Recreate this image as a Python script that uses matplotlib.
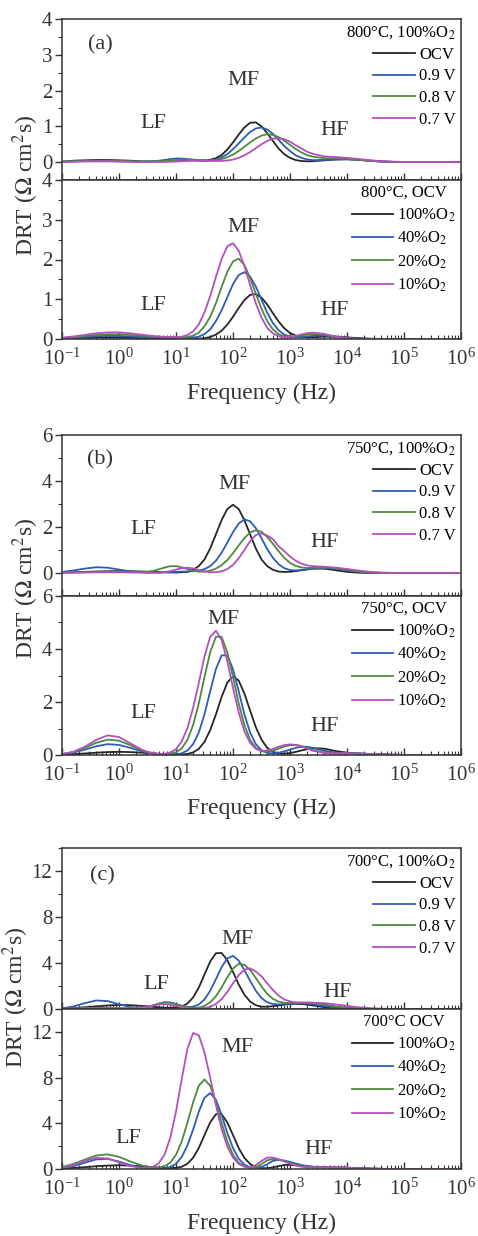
import numpy as np
import matplotlib
matplotlib.use('Agg')
import matplotlib.pyplot as plt
from matplotlib.ticker import MultipleLocator, LogLocator, NullFormatter

plt.rcParams['font.family'] = ['Liberation Serif', 'DejaVu Serif']
plt.rcParams['mathtext.fontset'] = 'stix'

# log10 of frequency (Hz) where the curves were read (finer around the MF peaks)
log_f = [-1.0, -0.8, -0.6, -0.4, -0.2, 0.0, 0.2, 0.4,
         0.5, 0.6, 0.7, 0.8, 0.9, 1.0, 1.1, 1.2, 1.3, 1.4, 1.5, 1.6, 1.7, 1.8, 1.9, 2.0,
         2.1, 2.2, 2.3, 2.4, 2.5, 2.6, 2.7, 2.8, 2.9, 3.0, 3.1, 3.2, 3.3, 3.4,
         3.6, 3.8, 4.0, 4.2, 4.4, 4.6, 4.8, 5.0, 6.0]
freq = [10 ** v for v in log_f]

volt_labels = ['OCV', '0.9 V', '0.8 V', '0.7 V']
o2_labels = ['100%O$_2$', '40%O$_2$', '20%O$_2$', '10%O$_2$']
colors = ['#262626', '#2c5cb8', '#4e8a3e', '#b54fbd']

# (a) 800 C, bias
a_ocv = [0.01, 0.04, 0.05, 0.06, 0.06, 0.05, 0.04, 0.02,
         0.02, 0.02, 0.02, 0.025, 0.033, 0.04, 0.048, 0.05, 0.05, 0.047, 0.048, 0.065, 0.11, 0.20, 0.35, 0.55,
         0.77, 0.97, 1.10, 1.11, 1.00, 0.81, 0.59, 0.38, 0.22, 0.12, 0.057, 0.03, 0.022, 0.026,
         0.05, 0.073, 0.08, 0.062, 0.035, 0.014, 0.005, 0, 0]
a_v09 = [0.01, 0.02, 0.03, 0.03, 0.03, 0.02, 0.015, 0.01,
         0.015, 0.02, 0.04, 0.06, 0.084, 0.10, 0.098, 0.084, 0.063, 0.045, 0.035, 0.04, 0.073, 0.13, 0.225, 0.36,
         0.52, 0.69, 0.84, 0.94, 0.97, 0.91, 0.79, 0.62, 0.45, 0.31, 0.19, 0.12, 0.074, 0.055,
         0.06, 0.074, 0.08, 0.066, 0.042, 0.021, 0.008, 0.003, 0]
a_v08 = [0.015, 0.024, 0.033, 0.039, 0.039, 0.033, 0.024, 0.017,
         0.016, 0.017, 0.023, 0.033, 0.044, 0.056, 0.067, 0.07, 0.069, 0.06, 0.052, 0.05, 0.06, 0.085, 0.135, 0.21,
         0.31, 0.43, 0.55, 0.66, 0.74, 0.78, 0.76, 0.70, 0.60, 0.48, 0.37, 0.27, 0.195, 0.15,
         0.11, 0.106, 0.093, 0.068, 0.039, 0.017, 0.006, 0.002, 0]
a_v07 = [0.008, 0.012, 0.017, 0.02, 0.02, 0.017, 0.012, 0.008,
         0.004, 0.005, 0.004, 0.007, 0.01, 0.016, 0.024, 0.032, 0.038, 0.04, 0.039, 0.035, 0.032, 0.034, 0.045, 0.07,
         0.12, 0.19, 0.28, 0.39, 0.50, 0.59, 0.66, 0.66, 0.64, 0.57, 0.47, 0.38, 0.29, 0.23,
         0.16, 0.14, 0.12, 0.087, 0.053, 0.027, 0.011, 0.004, 0]
# (a) 800 C, OCV, pO2
a_o100 = [0.011, 0.019, 0.029, 0.037, 0.04, 0.037, 0.029, 0.019,
          0.015, 0.011, 0.008, 0.005, 0.003, 0.002, 0.001, 0.0, 0.003, 0.009, 0.022, 0.05, 0.11, 0.21, 0.36, 0.56,
          0.78, 0.98, 1.11, 1.13, 1.04, 0.87, 0.65, 0.44, 0.27, 0.15, 0.086, 0.05, 0.044, 0.046,
          0.058, 0.058, 0.041, 0.022, 0.008, 0.002, 0, 0, 0]
a_o40 = [0.019, 0.034, 0.053, 0.071, 0.08, 0.076, 0.063, 0.05,
         0.046, 0.044, 0.043, 0.041, 0.039, 0.03, 0.03, 0.027, 0.032, 0.06, 0.124, 0.24, 0.45, 0.72, 1.05, 1.38,
         1.61, 1.68, 1.57, 1.32, 0.99, 0.66, 0.40, 0.22, 0.11, 0.06, 0.046, 0.052, 0.064, 0.079,
         0.089, 0.064, 0.029, 0.009, 0.002, 0, 0, 0, 0]
a_o20 = [0.024, 0.045, 0.073, 0.10, 0.118, 0.118, 0.10, 0.08,
         0.07, 0.063, 0.057, 0.052, 0.046, 0.039, 0.041, 0.05, 0.083, 0.16, 0.32, 0.56, 0.90, 1.31, 1.69, 1.95,
         2.02, 1.86, 1.54, 1.14, 0.76, 0.45, 0.24, 0.12, 0.067, 0.054, 0.063, 0.087, 0.112, 0.127,
         0.11, 0.06, 0.019, 0.004, 0, 0, 0, 0, 0]
a_o10 = [0.034, 0.064, 0.103, 0.142, 0.167, 0.167, 0.142, 0.108,
         0.091, 0.076, 0.063, 0.053, 0.043, 0.046, 0.058, 0.10, 0.19, 0.37, 0.67, 1.08, 1.56, 2.01, 2.33, 2.41,
         2.22, 1.84, 1.36, 0.90, 0.54, 0.28, 0.14, 0.07, 0.047, 0.055, 0.079, 0.115, 0.145, 0.16,
         0.128, 0.059, 0.016, 0.002, 0, 0, 0, 0, 0]

# (b) 750 C, bias
b_ocv = [0.02, 0.033, 0.049, 0.064, 0.076, 0.08, 0.076, 0.064,
         0.057, 0.049, 0.04, 0.033, 0.026, 0.02, 0.033, 0.048, 0.14, 0.30, 0.59, 1.07, 1.68, 2.30, 2.78, 2.97,
         2.78, 2.30, 1.68, 1.07, 0.59, 0.30, 0.14, 0.063, 0.045, 0.055, 0.082, 0.121, 0.16, 0.19,
         0.19, 0.121, 0.05, 0.013, 0.002, 0, 0, 0, 0]
b_v09 = [0.044, 0.11, 0.19, 0.25, 0.23, 0.15, 0.073, 0.027,
         0.017, 0.014, 0.018, 0.026, 0.036, 0.048, 0.059, 0.067, 0.078, 0.10, 0.17, 0.30, 0.535, 0.88, 1.32, 1.78,
         2.15, 2.33, 2.25, 1.95, 1.51, 1.04, 0.66, 0.38, 0.21, 0.13, 0.11, 0.126, 0.155, 0.187,
         0.22, 0.187, 0.115, 0.051, 0.016, 0.004, 0, 0, 0]
b_v08 = [0.014, 0.024, 0.036, 0.046, 0.05, 0.046, 0.037, 0.036,
         0.053, 0.092, 0.16, 0.24, 0.295, 0.30, 0.245, 0.17, 0.097, 0.057, 0.056, 0.10, 0.19, 0.34, 0.56, 0.86,
         1.20, 1.52, 1.76, 1.86, 1.79, 1.57, 1.27, 0.95, 0.66, 0.44, 0.31, 0.24, 0.22, 0.23,
         0.24, 0.21, 0.138, 0.069, 0.026, 0.008, 0.002, 0, 0]
b_v07 = [0.008, 0.015, 0.022, 0.028, 0.03, 0.028, 0.022, 0.017,
         0.005, 0.011, 0.014, 0.038, 0.08, 0.146, 0.21, 0.23, 0.20, 0.13, 0.071, 0.037, 0.035, 0.074, 0.17, 0.35,
         0.64, 1.0, 1.38, 1.65, 1.72, 1.63, 1.47, 1.16, 0.95, 0.72, 0.53, 0.41, 0.335, 0.30,
         0.27, 0.234, 0.175, 0.107, 0.053, 0.022, 0.007, 0.002, 0]
# (b) 750 C, OCV, pO2
b_o100 = [0.016, 0.033, 0.058, 0.087, 0.11, 0.12, 0.11, 0.087,
          0.073, 0.058, 0.045, 0.033, 0.024, 0.016, 0.021, 0.04, 0.097, 0.23, 0.50, 0.94, 1.53, 2.19, 2.73, 2.97,
          2.81, 2.32, 1.68, 1.05, 0.58, 0.27, 0.12, 0.057, 0.049, 0.073, 0.117, 0.17, 0.22, 0.26,
          0.24, 0.15, 0.086, 0.056, 0.038, 0.023, 0.011, 0.004, 0]
b_o40 = [0.034, 0.095, 0.20, 0.33, 0.41, 0.38, 0.27, 0.14,
         0.095, 0.058, 0.034, 0.018, 0.013, 0.022, 0.063, 0.17, 0.41, 0.85, 1.54, 2.41, 3.24, 3.76, 3.76, 3.24,
         2.41, 1.53, 0.85, 0.41, 0.18, 0.08, 0.06, 0.083, 0.14, 0.20, 0.27, 0.31, 0.31, 0.27,
         0.16, 0.088, 0.066, 0.053, 0.036, 0.02, 0.008, 0.003, 0]
b_o20 = [0.037, 0.115, 0.27, 0.46, 0.58, 0.54, 0.37, 0.18,
         0.115, 0.068, 0.04, 0.027, 0.04, 0.10, 0.25, 0.57, 1.13, 1.95, 2.95, 3.88, 4.46, 4.46, 3.88, 2.95,
         1.95, 1.13, 0.57, 0.27, 0.14, 0.12, 0.16, 0.24, 0.32, 0.37, 0.38, 0.34, 0.27, 0.19,
         0.093, 0.07, 0.07, 0.062, 0.042, 0.023, 0.009, 0.003, 0]
b_o10 = [0.033, 0.12, 0.31, 0.57, 0.74, 0.68, 0.44, 0.20,
         0.12, 0.067, 0.042, 0.045, 0.096, 0.22, 0.51, 1.01, 1.78, 2.72, 3.72, 4.46, 4.69, 4.34, 3.54, 2.53,
         1.61, 0.89, 0.46, 0.23, 0.15, 0.17, 0.226, 0.31, 0.375, 0.40, 0.38, 0.32, 0.24, 0.16,
         0.076, 0.06, 0.06, 0.053, 0.036, 0.02, 0.008, 0.003, 0]

# (c) 700 C, bias
c_ocv = [0.04, 0.083, 0.15, 0.23, 0.31, 0.35, 0.33, 0.27,
         0.23, 0.19, 0.15, 0.114, 0.098, 0.11, 0.21, 0.47, 1.0, 1.87, 3.0, 4.13, 4.85, 4.87, 4.24, 3.22,
         2.13, 1.24, 0.65, 0.33, 0.2, 0.2, 0.24, 0.31, 0.38, 0.43, 0.45, 0.43, 0.38, 0.31,
         0.16, 0.06, 0.017, 0.004, 0, 0, 0, 0, 0]
c_v09 = [0.063, 0.22, 0.51, 0.74, 0.69, 0.41, 0.16, 0.093,
         0.16, 0.30, 0.47, 0.59, 0.57, 0.44, 0.275, 0.17, 0.19, 0.39, 0.83, 1.59, 2.59, 3.64, 4.40, 4.62,
         4.21, 3.38, 2.45, 1.59, 0.95, 0.59, 0.43, 0.40, 0.43, 0.47, 0.50, 0.50, 0.47, 0.41,
         0.26, 0.13, 0.05, 0.016, 0.004, 0, 0, 0, 0]
c_v08 = [0.04, 0.06, 0.084, 0.098, 0.098, 0.084, 0.068, 0.11,
         0.19, 0.32, 0.46, 0.55, 0.54, 0.42, 0.27, 0.15, 0.10, 0.12, 0.27, 0.58, 1.11, 1.88, 2.75, 3.52,
         3.93, 3.84, 3.40, 2.70, 1.96, 1.31, 0.88, 0.64, 0.54, 0.52, 0.535, 0.545, 0.545, 0.52,
         0.39, 0.23, 0.11, 0.042, 0.013, 0.003, 0, 0, 0]
c_v07 = [0.019, 0.03, 0.042, 0.049, 0.049, 0.042, 0.043, 0.11,
         0.2, 0.31, 0.40, 0.42, 0.36, 0.255, 0.147, 0.068, 0.035, 0.04, 0.083, 0.20, 0.44, 0.86, 1.48, 2.23,
         2.94, 3.43, 3.53, 3.26, 2.84, 2.23, 1.65, 1.17, 0.83, 0.66, 0.58, 0.56, 0.56, 0.55,
         0.51, 0.40, 0.27, 0.15, 0.074, 0.031, 0.011, 0.003, 0]
# (c) 700 C, OCV, pO2
c_o100 = [0.045, 0.092, 0.16, 0.24, 0.30, 0.33, 0.30, 0.24,
          0.20, 0.16, 0.124, 0.092, 0.08, 0.10, 0.195, 0.46, 0.98, 1.84, 2.97, 4.08, 4.79, 4.79, 4.08, 2.97,
          1.83, 0.97, 0.44, 0.17, 0.07, 0.07, 0.135, 0.25, 0.35, 0.36, 0.335, 0.29, 0.23, 0.19,
          0.14, 0.126, 0.106, 0.073, 0.039, 0.016, 0.005, 0.001, 0]
c_o40 = [0.079, 0.25, 0.55, 0.84, 0.89, 0.65, 0.33, 0.12,
         0.06, 0.031, 0.027, 0.06, 0.17, 0.46, 1.05, 2.06, 3.45, 5.01, 6.24, 6.64, 6.06, 4.75, 3.15, 1.82,
         0.90, 0.38, 0.15, 0.077, 0.17, 0.42, 0.71, 0.80, 0.74, 0.62, 0.48, 0.35, 0.26, 0.20,
         0.16, 0.146, 0.113, 0.069, 0.032, 0.012, 0.004, 0.001, 0]
c_o20 = [0.17, 0.44, 0.82, 1.18, 1.28, 1.06, 0.66, 0.31,
         0.2, 0.13, 0.13, 0.24, 0.56, 1.24, 2.40, 4.05, 5.83, 7.29, 7.84, 7.29, 5.83, 4.05, 2.40, 1.24,
         0.55, 0.22, 0.11, 0.17, 0.43, 0.76, 0.88, 0.82, 0.69, 0.53, 0.38, 0.27, 0.19, 0.16,
         0.15, 0.146, 0.113, 0.069, 0.032, 0.012, 0.004, 0.001, 0]
c_o10 = [0.11, 0.34, 0.70, 0.98, 0.92, 0.59, 0.25, 0.086,
         0.083, 0.19, 0.51, 1.27, 2.74, 5.02, 7.86, 10.5, 11.9, 11.7, 10.2, 8.0, 5.6, 3.5, 1.97, 1.0,
         0.44, 0.20, 0.155, 0.34, 0.70, 1.0, 1.0, 0.86, 0.66, 0.46, 0.30, 0.2, 0.15, 0.14,
         0.15, 0.146, 0.113, 0.069, 0.032, 0.012, 0.004, 0.001, 0]

W, H = 478, 1236
fig = plt.figure(figsize=(W / 100, H / 100), dpi=100)

def px_axes(top, bottom):
    return [62 / W, 1 - bottom / H, 399 / W, (bottom - top) / H]

def style_axes(ax, ylim, major, minor, show_x):
    ax.set_xscale('log')
    ax.set_xlim(0.1, 1e6)
    ax.set_ylim(*ylim)
    ax.set_xticks([10.0 ** k for k in range(-1, 7)])
    ax.yaxis.set_major_locator(MultipleLocator(major))
    ax.yaxis.set_minor_locator(MultipleLocator(minor))
    ax.xaxis.set_minor_locator(LogLocator(base=10, subs=np.arange(2, 10), numticks=20))
    ax.xaxis.set_minor_formatter(NullFormatter())
    ax.tick_params(axis='x', which='both', direction='in', labelsize=15, colors='#333333', pad=7)
    ax.tick_params(axis='x', which='major', length=5, width=1)
    ax.tick_params(axis='x', which='minor', length=3, width=0.8)
    ax.tick_params(axis='y', which='both', direction='out', labelsize=15, colors='#333333', pad=2)
    ax.tick_params(axis='y', which='major', length=5, width=1)
    ax.tick_params(axis='y', which='minor', length=3, width=0.8)
    if not show_x:
        ax.tick_params(axis='x', labelbottom=False)
    for s in ax.spines.values():
        s.set_color('#333333')
        s.set_linewidth(1.1)

def draw(ax, series, labels, title, align):
    for y, lab, c in zip(series, labels, colors):
        ax.plot(freq, y, color=c, lw=1.3, label=lab)
    ax.legend(title=title, loc='upper right', bbox_to_anchor=(1.0, 1.0), frameon=False,
              fontsize=12, title_fontsize=12, handlelength=2.5, handletextpad=0.25,
              labelspacing=0.35, borderpad=0.3, borderaxespad=0, alignment=align)

def tag(ax, x, y, s):
    ax.text(x, y, s, transform=ax.transAxes, fontsize=16, color='#333333', ha='center', va='center')

groups = [
    dict(tops=(19, 180, 339), ylim_top=(-0.5, 4), ylim_bot=(0, 4), major=1, minor=0.5,
         bias=[a_ocv, a_v09, a_v08, a_v07], po2=[a_o100, a_o40, a_o20, a_o10],
         t_top='800°C, 100%O$_2$', t_bot='800°C, OCV',
         tags_top=[(0.095, 0.84, '(a)'), (0.228, 0.354, 'LF'), (0.454, 0.62, 'MF'), (0.684, 0.31, 'HF')],
         tags_bot=[(0.228, 0.21, 'LF'), (0.454, 0.70, 'MF'), (0.682, 0.18, 'HF')],
         ylab=(26, 185), xlab=393),
    dict(tops=(435, 596, 755), ylim_top=(-1, 6), ylim_bot=(0, 6), major=2, minor=1,
         bias=[b_ocv, b_v09, b_v08, b_v07], po2=[b_o100, b_o40, b_o20, b_o10],
         t_top='750°C, 100%O$_2$', t_bot='750°C, OCV',
         tags_top=[(0.095, 0.845, '(b)'), (0.203, 0.416, 'LF'), (0.431, 0.69, 'MF'), (0.657, 0.335, 'HF')],
         tags_bot=[(0.203, 0.264, 'LF'), (0.404, 0.855, 'MF'), (0.657, 0.18, 'HF')],
         ylab=(26, 588), xlab=808),
    dict(tops=(848, 1009, 1169), ylim_top=(0, 14), ylim_bot=(0, 14), major=4, minor=2,
         bias=[c_ocv, c_v09, c_v08, c_v07], po2=[c_o100, c_o40, c_o20, c_o10],
         t_top='700°C, 100%O$_2$', t_bot='700°C OCV',
         tags_top=[(0.10, 0.83, '(c)'), (0.236, 0.155, 'LF'), (0.439, 0.43, 'MF'), (0.69, 0.105, 'HF')],
         tags_bot=[(0.165, 0.19, 'LF'), (0.439, 0.76, 'MF'), (0.643, 0.12, 'HF')],
         ylab=(16, 997), xlab=1223),
]

for g in groups:
    t, m, b = g['tops']
    ax_top = fig.add_axes(px_axes(t, m))
    ax_bot = fig.add_axes(px_axes(m, b))
    style_axes(ax_top, g['ylim_top'], g['major'], g['minor'], False)
    style_axes(ax_bot, g['ylim_bot'], g['major'], g['minor'], True)
    draw(ax_top, g['bias'], volt_labels, g['t_top'], 'right')
    draw(ax_bot, g['po2'], o2_labels, g['t_bot'], 'center')
    for x, y, s in g['tags_top']:
        tag(ax_top, x, y, s)
    for x, y, s in g['tags_bot']:
        tag(ax_bot, x, y, s)
    fig.text(g['ylab'][0] / W, 1 - g['ylab'][1] / H, 'DRT ($\\Omega$ cm$^2$s)', rotation=90, fontsize=17,
             color='#333333', ha='center', va='center')
    fig.text(261.5 / W, 1 - g['xlab'] / H, 'Frequency (Hz)', fontsize=17,
             color='#333333', ha='center', va='center')

fig.savefig('out.png', dpi=100)
